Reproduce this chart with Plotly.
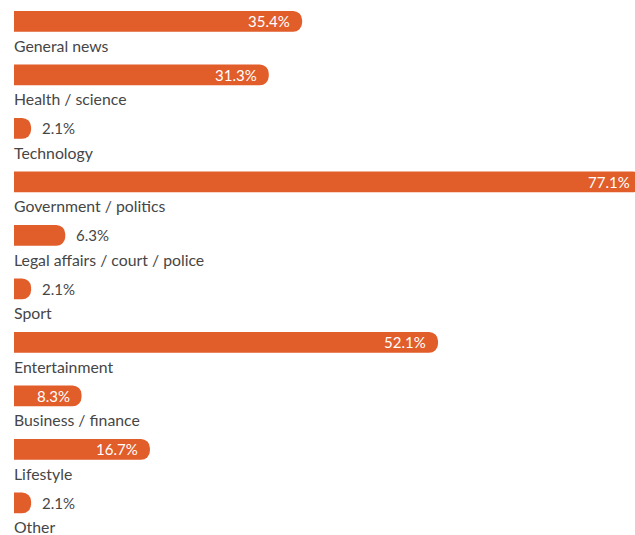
import plotly.graph_objects as go

# Share of items by topic (%)
categories = [
    "General news",
    "Health / science",
    "Technology",
    "Government / politics",
    "Legal affairs / court / police",
    "Sport",
    "Entertainment",
    "Business / finance",
    "Lifestyle",
    "Other",
]
values = [35.4, 31.3, 2.1, 77.1, 6.3, 2.1, 52.1, 8.3, 16.7, 2.1]

BAR_COLOR = "#E15D2A"
TEXT_COLOR = "#464646"
FONT = "Lato, 'Open Sans', sans-serif"
INSIDE_MIN = 8.0   # values at or above this get the label inside the bar
X_MAX = 76.3       # visible value range; the longest bar runs off the edge

positions = list(range(len(categories)))

fig = go.Figure(
    go.Bar(
        x=values,
        y=positions,
        orientation="h",
        width=0.39,
        marker=dict(color=BAR_COLOR, line=dict(width=0)),
        hoverinfo="skip",
    )
)

annotations = []
for pos, cat, val in zip(positions, categories, values):
    # category name below the bar
    annotations.append(dict(
        x=0, y=pos + 0.45, xref="x", yref="y",
        text=cat, showarrow=False, xanchor="left", yanchor="middle",
        xshift=-2,
        font=dict(family=FONT, size=15.8, color=TEXT_COLOR),
    ))
    # value label, inside for long bars, after the bar for short ones;
    # placed in plot-fraction units so a clipped bar keeps its label
    inside = val >= INSIDE_MIN
    annotations.append(dict(
        x=val / X_MAX, y=pos, xref="paper", yref="y",
        text=f"{val:.1f}%", showarrow=False,
        xanchor="right" if inside else "left", yanchor="middle",
        xshift=-10 if inside else 9,
        font=dict(family=FONT, size=15,
                  color="#FFFFFF" if inside else TEXT_COLOR),
    ))

fig.update_layout(
    width=635, height=535,
    margin=dict(l=14, r=0, t=0, b=0),
    paper_bgcolor="white", plot_bgcolor="white",
    barcornerradius=9,
    showlegend=False,
    xaxis=dict(range=[0, X_MAX], visible=False, fixedrange=True),
    yaxis=dict(range=[9.6, -0.4], visible=False, fixedrange=True),
    annotations=annotations,
)

fig.write_html("out.html")
